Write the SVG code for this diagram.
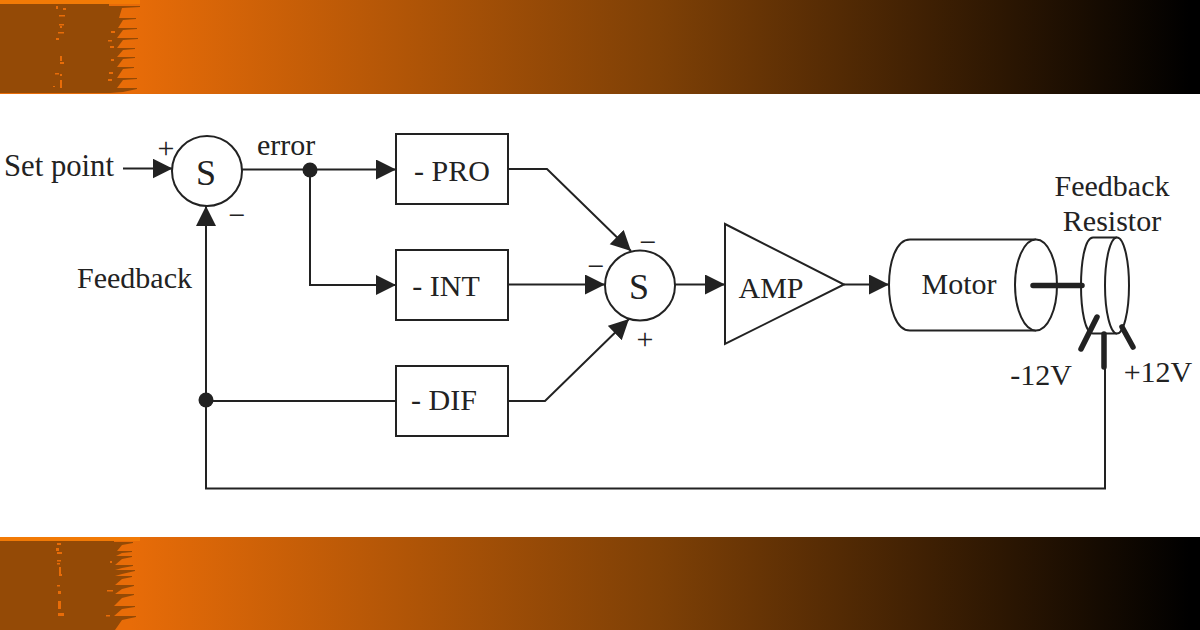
<svg xmlns="http://www.w3.org/2000/svg" width="1200" height="630" viewBox="0 0 1200 630">
<style>
text{font-family:"Liberation Serif","Times New Roman",serif;font-size:30px;fill:#222}
.m{text-anchor:middle}
.b{font-size:36px}
.l{fill:none;stroke:#222;stroke-width:2}
.s{fill:#fff;stroke:#222;stroke-width:2}
.t{fill:none;stroke:#222;stroke-width:5.5;stroke-linecap:round}
.d{fill:#944a06}
.o{fill:#e86c08}
</style>
<defs>
<linearGradient id="g" gradientUnits="userSpaceOnUse" x1="130" y1="0" x2="1190" y2="0">
<stop offset="0" stop-color="#e86c08"/><stop offset="0.5" stop-color="#7e4006"/><stop offset="1" stop-color="#000"/>
</linearGradient>
<marker id="a" markerUnits="userSpaceOnUse" markerWidth="22" markerHeight="22" refX="20" refY="10" orient="auto"><path d="M0 0L20 10L0 20Z" fill="#222"/></marker>
</defs>
<g id="banner-top">
<rect width="1200" height="94" fill="url(#g)"/>
<rect y="0" width="140" height="4" fill="#f27a06"/>
<path class="d" d="M0 4H109V6H140V7L122 8L119 18H136V19L123 20L118 28H137V29L123 30L117 38H138V39L123 40L117 48H135V49L123 50L117 57H135V58L123 59L117 67H134V68L123 69L117 78H137V79L123 80L117 88H137V89L123 92L110 93H0Z"/>
<path class="o" d="M56 6h2v3h-2zM63 8h3v2h-3zM59 15h6v1.500h-6zM59 24h5v1.500h-5zM60 26h2v2h-2zM58 32h6v1.500h-6zM56 38h3v2h-3zM60 56h2v5h-2zM60 62h4v2h-4zM55 73h4v1.500h-4zM60 74h2v2h-2zM60 80h2v8h-2zM53 86h2v1h-2zM111 31h4v2h-4zM108 40h4v1.500h-4zM110 46h4v2h-4zM111 59h3v2h-3zM109 72h4v2h-4zM108 79h4v2h-4z"/>
</g>
<g id="banner-bottom">
<rect y="537" width="1200" height="93" fill="url(#g)"/>
<rect y="537" width="140" height="4" fill="#f27a06"/>
<path class="d" d="M0 541H114V542H133V543L122 545L117 551H132V552L122 553L116 556H132V557L122 559L115 565H133V566L122 568L115 570H135V571L122 574L115 576H132V577L122 579L115 585H134V586L122 589L115 594H134V595L122 598L114 606H135V607L122 609L114 616H136V617L122 620L115 630H0Z"/>
<path class="o" d="M57 543h4v2h-4zM56 548h3v3h-3zM57 552h5v2h-5zM57 560h4v1.500h-4zM57 563h3v1.500h-3zM59 567h2v7h-2zM59 574h3v2h-3zM57 585h3v1.500h-3zM58 591h3v3h-3zM58 601h3v8h-3zM58 613h6v3h-6zM107 590h6v1.500h-6zM106 615h4v1.500h-4zM110 561h2v2h-2z"/>
</g>
<g id="connectors">
<path class="l" marker-end="url(#a)" d="M123 168.500H172.500"/>
<path class="l" marker-end="url(#a)" d="M242 169.500H396"/>
<path class="l" marker-end="url(#a)" d="M310 170V285H396"/>
<path class="l" d="M206 401H396"/>
<path class="l" marker-end="url(#a)" d="M1105 368V488.500H206V206"/>
<path class="l" marker-end="url(#a)" d="M508 169H547L631 251"/>
<path class="l" marker-end="url(#a)" d="M505 284.500H605"/>
<path class="l" marker-end="url(#a)" d="M508 401H545L629 319"/>
<path class="l" marker-end="url(#a)" d="M675 284.500H725"/>
<path class="l" marker-end="url(#a)" d="M844 284.500H889"/>
<circle cx="310" cy="170" r="7.500" fill="#222"/>
<circle cx="206" cy="400" r="7.500" fill="#222"/>
</g>
<g id="labels">
<text x="4" y="176" style="font-size:30.700px">Set point</text>
<text x="257" y="155">error</text>
<text x="77" y="288">Feedback</text>
<text x="166" y="158" class="m">+</text>
<text x="237" y="225" class="m">−</text>
<text x="648" y="252" class="m">−</text>
<text x="596" y="276" class="m">−</text>
<text x="645" y="349" class="m">+</text>
</g>
<g id="sum1"><circle class="s" cx="207" cy="171" r="35"/><text x="206" y="185" class="m b">S</text></g>
<g id="pro"><rect class="s" x="396" y="134" width="112" height="70"/><text x="452" y="181" class="m">- PRO</text></g>
<g id="int"><rect class="s" x="396" y="250" width="112" height="70"/><text x="446" y="296" class="m">- INT</text></g>
<g id="dif"><rect class="s" x="396" y="366" width="112" height="70"/><text x="444" y="410" class="m">- DIF</text></g>
<g id="sum2"><circle class="s" cx="640" cy="285.500" r="35"/><text x="639" y="299" class="m b">S</text></g>
<g id="amp"><path class="s" d="M725 224V344L844 284.500Z"/><text x="771" y="298" class="m">AMP</text></g>
<g id="motor">
<path class="s" d="M1036 239.500H910C882 239.500 882 330.500 910 330.500H1036"/>
<ellipse class="s" cx="1036" cy="285" rx="21" ry="45.500"/>
<text x="959" y="294" class="m">Motor</text>
</g>
<g id="resistor">
<path class="s" d="M1117 237.500H1093C1077 237.500 1077 333.500 1093 333.500H1117"/>
<ellipse class="s" cx="1117" cy="285.500" rx="12" ry="48"/>
<path class="t" d="M1033 285.500H1082M1097 317L1081 349M1104 334V367M1122 327L1133 347"/>
<text x="1112" y="196" class="m">Feedback</text>
<text x="1112" y="231" class="m">Resistor</text>
<text x="1041" y="385" class="m">-12V</text>
<text x="1158" y="382" class="m">+12V</text>
</g>
</svg>
